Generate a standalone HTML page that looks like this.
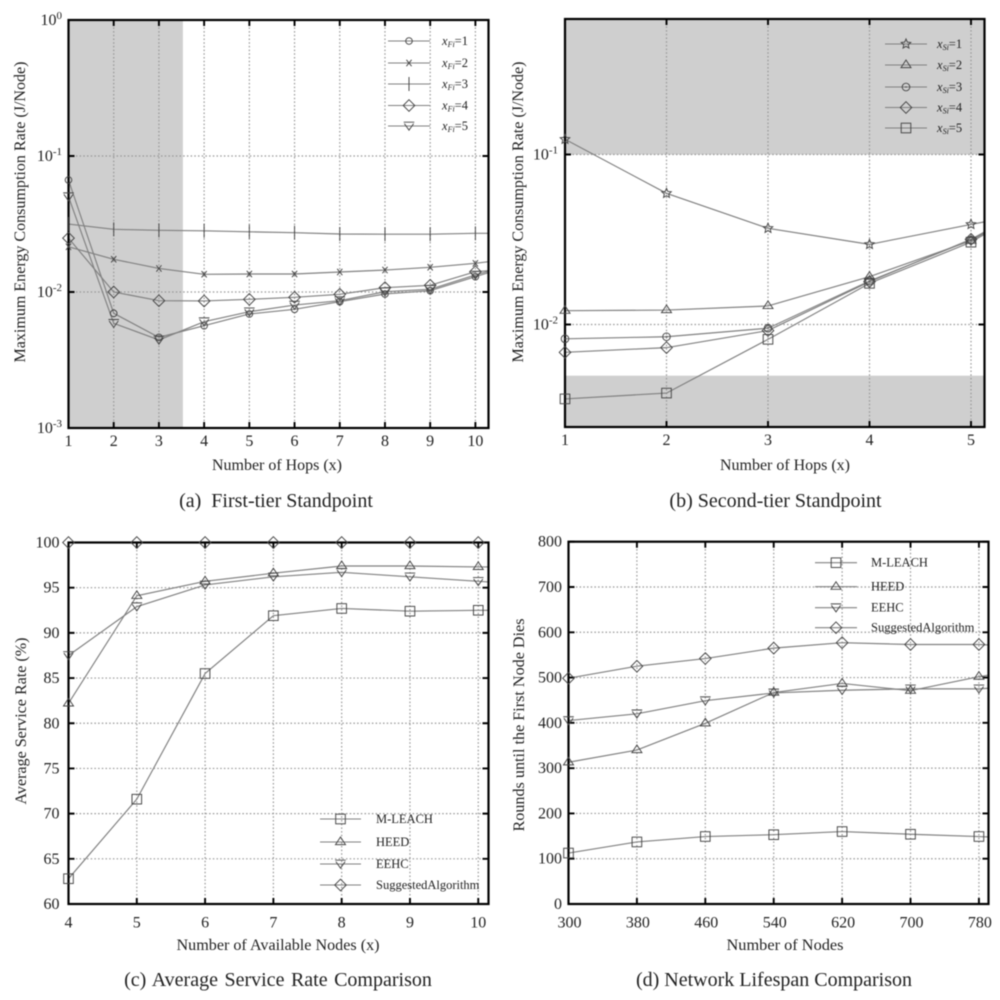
<!DOCTYPE html>
<html>
<head>
<meta charset="utf-8">
<style>
html,body{margin:0;padding:0;background:#fff;width:1000px;height:1000px;overflow:hidden}
svg{display:block;filter:blur(0.45px)}
text{font-family:"Liberation Serif",serif;fill:#222}
.tick{font-size:16px}
.title{font-size:16px}
.caption{font-size:20px}
.leg{font-size:12.5px}
</style>
</head>
<body>
<svg id="figure" xmlns="http://www.w3.org/2000/svg" width="1000" height="1000" viewBox="0 0 1000 1000">
  <text class="title" transform="translate(25,212) rotate(-90)" text-anchor="middle" textLength="301" lengthAdjust="spacingAndGlyphs">Maximum Energy Consumption Rate (J/Node)</text>
  <text class="title" x="277" y="470" text-anchor="middle" textLength="130" lengthAdjust="spacingAndGlyphs">Number of Hops (x)</text>
  <text class="caption" x="276" y="507" text-anchor="middle" xml:space="preserve">(a)  First-tier Standpoint</text>

  <text class="title" transform="translate(523,212) rotate(-90)" text-anchor="middle" textLength="301" lengthAdjust="spacingAndGlyphs">Maximum Energy Consumption Rate (J/Node)</text>
  <text class="title" x="785" y="470" text-anchor="middle" textLength="130" lengthAdjust="spacingAndGlyphs">Number of Hops (x)</text>
  <text class="caption" x="775.5" y="507" text-anchor="middle">(b) Second-tier Standpoint</text>

  <text class="title" transform="translate(26,721) rotate(-90)" text-anchor="middle" textLength="167" lengthAdjust="spacingAndGlyphs">Average Service Rate (%)</text>
  <text class="title" x="278" y="950" text-anchor="middle" textLength="203" lengthAdjust="spacingAndGlyphs">Number of Available Nodes (x)</text>
  <text class="caption" x="278" y="986" text-anchor="middle" word-spacing="1.5">(c) Average Service Rate Comparison</text>

  <text class="title" transform="translate(524,725) rotate(-90)" text-anchor="middle" textLength="213" lengthAdjust="spacingAndGlyphs">Rounds until the First Node Dies</text>
  <text class="title" x="785" y="950" text-anchor="middle" textLength="117" lengthAdjust="spacingAndGlyphs">Number of Nodes</text>
  <text class="caption" x="774" y="986" text-anchor="middle">(d) Network Lifespan Comparison</text>
</svg>
<script>
// Panel (a) data
const aHops = [1, 2, 3, 4, 5, 6, 7, 8, 9, 10, 11];
const aXTickValues = [1, 2, 3, 4, 5, 6, 7, 8, 9, 10];
const aYTickValues = [1, 0.1, 0.01, 0.001];
const aYTickExponents = ['0', '-1', '-2', '-3'];
const aFi1 = [0.0666, 0.00697, 0.00464, 0.00565, 0.00689, 0.00746, 0.00849, 0.00967, 0.01023, 0.01295, 0.0164];
const aFi2 = [0.0215, 0.0174, 0.0149, 0.0135, 0.01356, 0.01356, 0.01403, 0.0145, 0.0152, 0.01625, 0.0179];
const aFi3 = [0.0316, 0.0289, 0.0284, 0.0282, 0.0277, 0.0273, 0.0267, 0.0266, 0.0266, 0.027, 0.027];
const aFi4 = [0.0249, 0.01, 0.00863, 0.00859, 0.00883, 0.00914, 0.00962, 0.01076, 0.0112, 0.0141, 0.015];
const aFi5 = [0.0502, 0.00589, 0.00444, 0.00605, 0.00716, 0.00802, 0.00863, 0.01005, 0.01047, 0.01334, 0.0165];
const aBandEnd = 3.53;

// Panel (b) data
const bHops = [1, 2, 3, 4, 5, 6];
const bXTickValues = [1, 2, 3, 4, 5];
const bYTickValues = [0.1, 0.01];
const bYTickExponents = ['-1', '-2'];
const bSi1 = [0.1229, 0.0591, 0.0368, 0.0296, 0.0388, 0.0502];
const bSi2 = [0.01205, 0.01216, 0.01285, 0.0191, 0.0311, 0.0673];
const bSi3 = [0.00824, 0.00847, 0.00951, 0.01803, 0.0314, 0.0673];
const bSi4 = [0.00686, 0.00731, 0.00921, 0.01786, 0.0317, 0.0673];
const bSi5 = [0.00365, 0.00395, 0.00818, 0.01746, 0.0305, 0.0673];
const bBandUpperStart = 0.1;
const bBandLowerEnd = 0.005;

// Panel (c) data
const cNodes = [4, 5, 6, 7, 8, 9, 10, 11];
const cXTickValues = [4, 5, 6, 7, 8, 9, 10];
const cYTickValues = [60, 65, 70, 75, 80, 85, 90, 95, 100];
const cMLeach = [62.8, 71.6, 85.5, 91.9, 92.7, 92.4, 92.5, 92.5];
const cHeed = [82.2, 94.1, 95.7, 96.6, 97.4, 97.4, 97.3, 97.3];
const cEehc = [87.5, 92.9, 95.3, 96.2, 96.7, 96.2, 95.7, 95.3];
const cSuggested = [100, 100, 100, 100, 100, 100, 100, 100];

// Panel (d) data
const dNodes = [300, 380, 460, 540, 620, 700, 780, 860];
const dXTickValues = [300, 380, 460, 540, 620, 700, 780];
const dYTickValues = [0, 100, 200, 300, 400, 500, 600, 700, 800];
const dMLeach = [112.5, 137, 149, 153, 160, 154, 149, 142];
const dHeed = [313, 340, 399, 467, 487, 471, 502, 525];
const dEehc = [405, 420, 449, 466, 472, 475, 475, 485];
const dSuggested = [498.5, 525, 542, 565, 577, 573, 573, 566];

const svg = document.getElementById('figure');
const NS = 'http://www.w3.org/2000/svg';

function make(tag, attrs, parent) {
  const el = document.createElementNS(NS, tag);
  for (const k in attrs) el.setAttribute(k, attrs[k]);
  (parent || svg).appendChild(el);
  return el;
}

function drawMarker(kind, cx, cy, parent, name) {
  const style = {fill: 'none', stroke: '#444', 'stroke-width': 0.95};
  let el;
  if (kind === 'circle') {
    el = make('circle', Object.assign({cx: cx, cy: cy, r: 3.3}, style), parent);
  } else if (kind === 'ring') {
    el = make('path', Object.assign({d: 'M' + (cx - 3.8) + ' ' + cy + 'a3.8 3.8 0 1 0 7.6 0a3.8 3.8 0 1 0 -7.6 0M' + (cx - 1) + ' ' + cy + 'h2'}, style), parent);
  } else if (kind === 'cross') {
    el = make('path', Object.assign({d: 'M' + (cx - 2.6) + ' ' + (cy - 3.2) + 'l5.2 6.4M' + (cx + 2.6) + ' ' + (cy - 3.2) + 'l-5.2 6.4'}, style), parent);
  } else if (kind === 'bar') {
    el = make('path', Object.assign({d: 'M' + cx + ' ' + (cy - 7) + 'v14'}, style), parent);
  } else if (kind === 'diamond') {
    el = make('path', Object.assign({d: 'M' + cx + ' ' + (cy - 5.8) + 'l5.8 5.8l-5.8 5.8l-5.8 -5.8z'}, style), parent);
  } else if (kind === 'down') {
    el = make('path', Object.assign({d: 'M' + (cx - 5.3) + ' ' + (cy - 3.8) + 'h10.6M' + (cx - 4.6) + ' ' + (cy - 2.4) + 'l4.6 6.6l4.6 -6.6'}, style), parent);
  } else if (kind === 'up') {
    el = make('path', Object.assign({d: 'M' + cx + ' ' + (cy - 5) + 'l5 7.6h-10z'}, style), parent);
  } else if (kind === 'square') {
    el = make('rect', Object.assign({x: cx - 4.8, y: cy - 4.8, width: 9.6, height: 9.6}, style), parent);
  } else {
    let d = '';
    for (let i = 0; i < 10; i++) {
      const r = i % 2 ? 2.3 : 5;
      const t = -Math.PI / 2 + i * Math.PI / 5;
      d += (i ? 'L' : 'M') + (cx + r * Math.cos(t)).toFixed(2) + ' ' + (cy + r * Math.sin(t)).toFixed(2);
    }
    el = make('path', Object.assign({d: d + 'z'}, style), parent);
  }
  
  
}

function legendLabel(parent, x, y, series, name) {
  const t = make('text', {x: x, y: y + 4, class: 'leg'}, parent);
  
  
  if (series.sub) {
    const a = make('tspan', {'font-style': 'italic'}, t);
    a.textContent = 'x';
    const b = make('tspan', {'font-style': 'italic', 'font-size': '8', dy: '2'}, t);
    b.textContent = series.sub;
    const c = make('tspan', {dy: '-2'}, t);
    c.textContent = '=' + series.num;
  } else {
    t.setAttribute('word-spacing', '-2.5');
    t.textContent = series.label;
  }
}

function drawPanel(p) {
  const group = make('g', {});
  
  

  const xs = v => p.L + (v - p.xMin) / (p.xMax - p.xMin) * (p.R - p.L);
  const ys = p.log
    ? v => p.T + (Math.log10(p.yMax) - Math.log10(v)) / (Math.log10(p.yMax) - Math.log10(p.yMin)) * (p.B - p.T)
    : v => p.T + (p.yMax - v) / (p.yMax - p.yMin) * (p.B - p.T);

  const clipId = 'clip-' + p.id;
  const defs = make('defs', {}, group);
  const clip = make('clipPath', {id: clipId}, defs);
  make('rect', {x: p.L, y: p.T - 8, width: p.R - p.L, height: p.B - p.T + 16}, clip);

  p.bands.forEach(b => {
    const x0 = xs(b.x0 === undefined ? p.xMin : b.x0);
    const x1 = xs(b.x1 === undefined ? p.xMax : b.x1);
    const y0 = ys(b.y0 === undefined ? p.yMax : b.y0);
    const y1 = ys(b.y1 === undefined ? p.yMin : b.y1);
    const band = make('rect', {x: x0, y: y0, width: x1 - x0, height: y1 - y0, fill: '#cfcfcf'}, group);
    
    
  });

  const gridStyle = {stroke: '#969696', 'stroke-width': 1.2, 'stroke-dasharray': '1.5 2.2', fill: 'none'};
  p.xTicks.forEach((v, i) => {
    if (i > 0) {
      const g = make('line', Object.assign({x1: xs(v), x2: xs(v), y1: p.T, y2: p.B}, gridStyle), group);
      
      
    }
  });
  p.yTicks.forEach(v => {
    const g = make('line', Object.assign({x1: p.L, x2: p.R, y1: ys(v), y2: ys(v)}, gridStyle), group);
    
    
  });

  const plot = make('g', {'clip-path': 'url(#' + clipId + ')'}, group);
  p.series.forEach(s => {
    const pts = s.values.map((v, i) => xs(p.categories[i]).toFixed(2) + ',' + ys(v).toFixed(2)).join(' ');
    const line = make('polyline', {points: pts, fill: 'none', stroke: '#808080', 'stroke-width': 1.15}, plot);
    
    
  });

  const tickPath = [];
  p.xTicks.forEach(v => {
    tickPath.push('M' + xs(v) + ' ' + p.B + 'v-6M' + xs(v) + ' ' + p.T + 'v6');
  });
  p.yTicks.forEach(v => {
    tickPath.push('M' + p.L + ' ' + ys(v) + 'h6M' + p.R + ' ' + ys(v) + 'h-6');
  });
  const ticks = make('path', {d: tickPath.join(''), stroke: '#000', 'stroke-width': 1.9, fill: 'none'}, group);
  
  

  const frame = make('rect', {x: p.L, y: p.T, width: p.R - p.L, height: p.B - p.T, fill: 'none', stroke: '#000', 'stroke-width': 2.2}, group);
  
  

  const markers = make('g', {}, group);
  
  
  p.series.forEach(s => {
    s.values.forEach((v, i) => {
      if (p.categories[i] <= p.xTicks[p.xTicks.length - 1]) {
        drawMarker(s.marker, xs(p.categories[i]), ys(v), markers, 'marker-' + s.key);
      }
    });
  });

  p.xTicks.forEach(v => {
    const t = make('text', {x: xs(v) + (p.xLabelShift || 0), y: p.B + p.xLabelDy, class: 'tick', 'text-anchor': 'middle'}, group);
    
    
    t.textContent = String(v);
  });
  p.yTicks.forEach((v, i) => {
    const t = make('text', {x: p.L - p.yLabelGap, y: ys(v) + 5, class: 'tick', 'text-anchor': 'end'}, group);
    
    
    if (p.exps) {
      const base = make('tspan', {}, t);
      base.textContent = '10';
      const sup = make('tspan', {'font-size': '11', dy: '-6'}, t);
      sup.textContent = p.exps[i];
    } else {
      t.textContent = String(v);
    }
  });

  p.series.forEach((s, i) => {
    const y = p.legend.ys[i];
    const entry = make('g', {}, group);
    
    
    make('line', {x1: p.legend.x1, x2: p.legend.x2, y1: y, y2: y, stroke: '#808080', 'stroke-width': 1.05}, entry);
    drawMarker(s.marker, (p.legend.x1 + p.legend.x2) / 2, y, entry, 'legend-marker-' + s.key);
    legendLabel(entry, p.legend.tx, y, s, 'legend-label-' + s.key);
  });
}

drawPanel({
  id: 'a', L: 68.5, R: 488.5, T: 20, B: 428, xMin: 1, xMax: 10.29, yMin: 0.001, yMax: 1, log: true,
  xLabelDy: 18, yLabelGap: 6.5,
  categories: aHops, xTicks: aXTickValues, yTicks: aYTickValues, exps: aYTickExponents,
  bands: [{x1: aBandEnd}],
  legend: {x1: 388, x2: 430, tx: 442, ys: [41, 63, 84, 105.5, 126]},
  series: [
    {key: 'xfi-1', values: aFi1, marker: 'circle', sub: 'Fi', num: 1},
    {key: 'xfi-2', values: aFi2, marker: 'cross', sub: 'Fi', num: 2},
    {key: 'xfi-3', values: aFi3, marker: 'bar', sub: 'Fi', num: 3},
    {key: 'xfi-4', values: aFi4, marker: 'diamond', sub: 'Fi', num: 4},
    {key: 'xfi-5', values: aFi5, marker: 'down', sub: 'Fi', num: 5}
  ]
});

drawPanel({
  id: 'b', L: 565, R: 984.5, T: 19, B: 427, xMin: 1, xMax: 5.133, yMin: 0.002495, yMax: 0.6266, log: true,
  xLabelDy: 18, yLabelGap: 7,
  categories: bHops, xTicks: bXTickValues, yTicks: bYTickValues, exps: bYTickExponents,
  bands: [{y1: bBandUpperStart}, {y0: bBandLowerEnd}],
  legend: {x1: 885, x2: 927, tx: 937, ys: [44, 65, 87, 107.5, 128]},
  series: [
    {key: 'xsi-1', values: bSi1, marker: 'star', sub: 'Si', num: 1},
    {key: 'xsi-2', values: bSi2, marker: 'up', sub: 'Si', num: 2},
    {key: 'xsi-3', values: bSi3, marker: 'ring', sub: 'Si', num: 3},
    {key: 'xsi-4', values: bSi4, marker: 'diamond', sub: 'Si', num: 4},
    {key: 'xsi-5', values: bSi5, marker: 'square', sub: 'Si', num: 5}
  ]
});

drawPanel({
  id: 'c', L: 68.5, R: 488.5, T: 542.5, B: 904, xMin: 4, xMax: 10.15, yMin: 60, yMax: 100, log: false,
  xLabelDy: 23.5, yLabelGap: 9,
  categories: cNodes, xTicks: cXTickValues, yTicks: cYTickValues,
  bands: [],
  legend: {x1: 320, x2: 361, tx: 376, ys: [819, 842, 864, 885]},
  series: [
    {key: 'm-leach', values: cMLeach, marker: 'square', label: 'M-LEACH'},
    {key: 'heed', values: cHeed, marker: 'up', label: 'HEED'},
    {key: 'eehc', values: cEehc, marker: 'down', label: 'EEHC'},
    {key: 'suggested', values: cSuggested, marker: 'diamond', label: 'Suggested Algorithm'}
  ]
});

drawPanel({
  id: 'd', L: 568.5, R: 988.5, T: 541.7, B: 904, xMin: 300, xMax: 791.2, yMin: 0, yMax: 800, log: false,
  xLabelDy: 23.5, yLabelGap: 6.5, xLabelShift: 1,
  categories: dNodes, xTicks: dXTickValues, yTicks: dYTickValues,
  bands: [],
  legend: {x1: 815, x2: 857, tx: 871, ys: [562.7, 586.7, 607.7, 627.7]},
  series: [
    {key: 'm-leach', values: dMLeach, marker: 'square', label: 'M-LEACH'},
    {key: 'heed', values: dHeed, marker: 'up', label: 'HEED'},
    {key: 'eehc', values: dEehc, marker: 'down', label: 'EEHC'},
    {key: 'suggested', values: dSuggested, marker: 'diamond', label: 'Suggested Algorithm'}
  ]
});
</script>
</body>
</html>
